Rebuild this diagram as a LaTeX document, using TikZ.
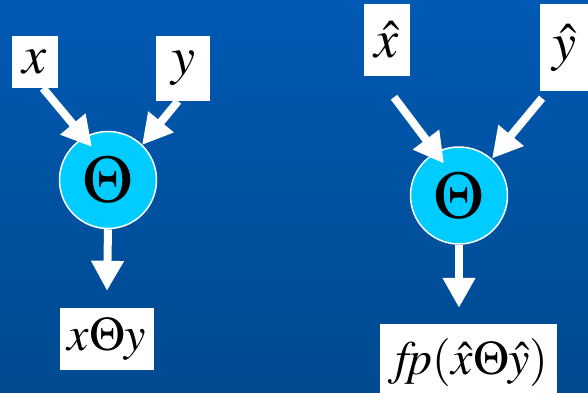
\documentclass[tikz,border=0pt]{standalone}
\usepackage{mathptmx}
\usetikzlibrary{positioning,arrows.meta}
\definecolor{bgtop}{HTML}{0059B3}
\definecolor{bgbot}{HTML}{004A8F}
\definecolor{opcyan}{HTML}{00CCFF}

\begin{document}
\begin{tikzpicture}[x=1pt, y=-1pt,
  valbox/.style={fill=white, inner sep=0pt, font=\fontsize{54}{60}\selectfont},
  resbox/.style={fill=white, inner sep=0pt, font=\fontsize{48}{56}\selectfont},
  opnode/.style={circle, fill=opcyan, draw=white, line width=1.5pt, minimum size=97pt, inner sep=0pt, font=\fontsize{52}{60}\selectfont},
  flow/.style={white, line width=8pt, -{Triangle[length=30pt,width=31pt]}},
]
\useasboundingbox (0,0) rectangle (588,392);
\clip (0,0) rectangle (588,392);
\shade[top color=bgtop, bottom color=bgbot] (0,0) rectangle (588,392);

% plain values
\node[valbox, minimum width=46pt, minimum height=52pt] (xin) at (35,62) {$x$};
\node[valbox, minimum width=54pt, minimum height=65pt] (yin) at (183,68.5) {$y$};
\node[opnode] (opl) at (108,180) {\scalebox{1.3}{$\Theta$}};
\node[resbox, minimum width=94pt, minimum height=62pt] (resl) at (107,339) {$x\Theta y$};

% floating point values
\node[valbox, minimum width=46pt, minimum height=72pt] (xh) at (387,40) {$\hat{x}$};
\node[valbox, minimum width=48pt, minimum height=87pt] (yh) at (564,47.5) {$\hat{y}$};
\node[opnode] (opr) at (459,195.5) {\scalebox{1.3}{$\Theta$}};
\node[resbox, minimum width=177pt, minimum height=76pt] (resr) at (468.5,362) {$f\mkern-4mu p(\hat{x}\Theta\hat{y})$};

\draw[flow] ([xshift=8pt]xin.south) -- ([shift={(-16,-33)}]opl.center);
\draw[flow] ([xshift=-5pt]yin.south) -- ([shift={(34,-35)}]opl.center);
\draw[flow] (opl.south) -- ([yshift=17pt]resl.north);

\draw[flow] ([shift={(7,21)}]xh.south) -- ([shift={(-15,-32)}]opr.center);
\draw[flow] ([shift={(-22,7)}]yh.south) -- ([shift={(33,-37)}]opr.center);
\draw[flow] (opr.south) -- ([shift={(-9.5,-16)}]resr.north);
\end{tikzpicture}
\end{document}
